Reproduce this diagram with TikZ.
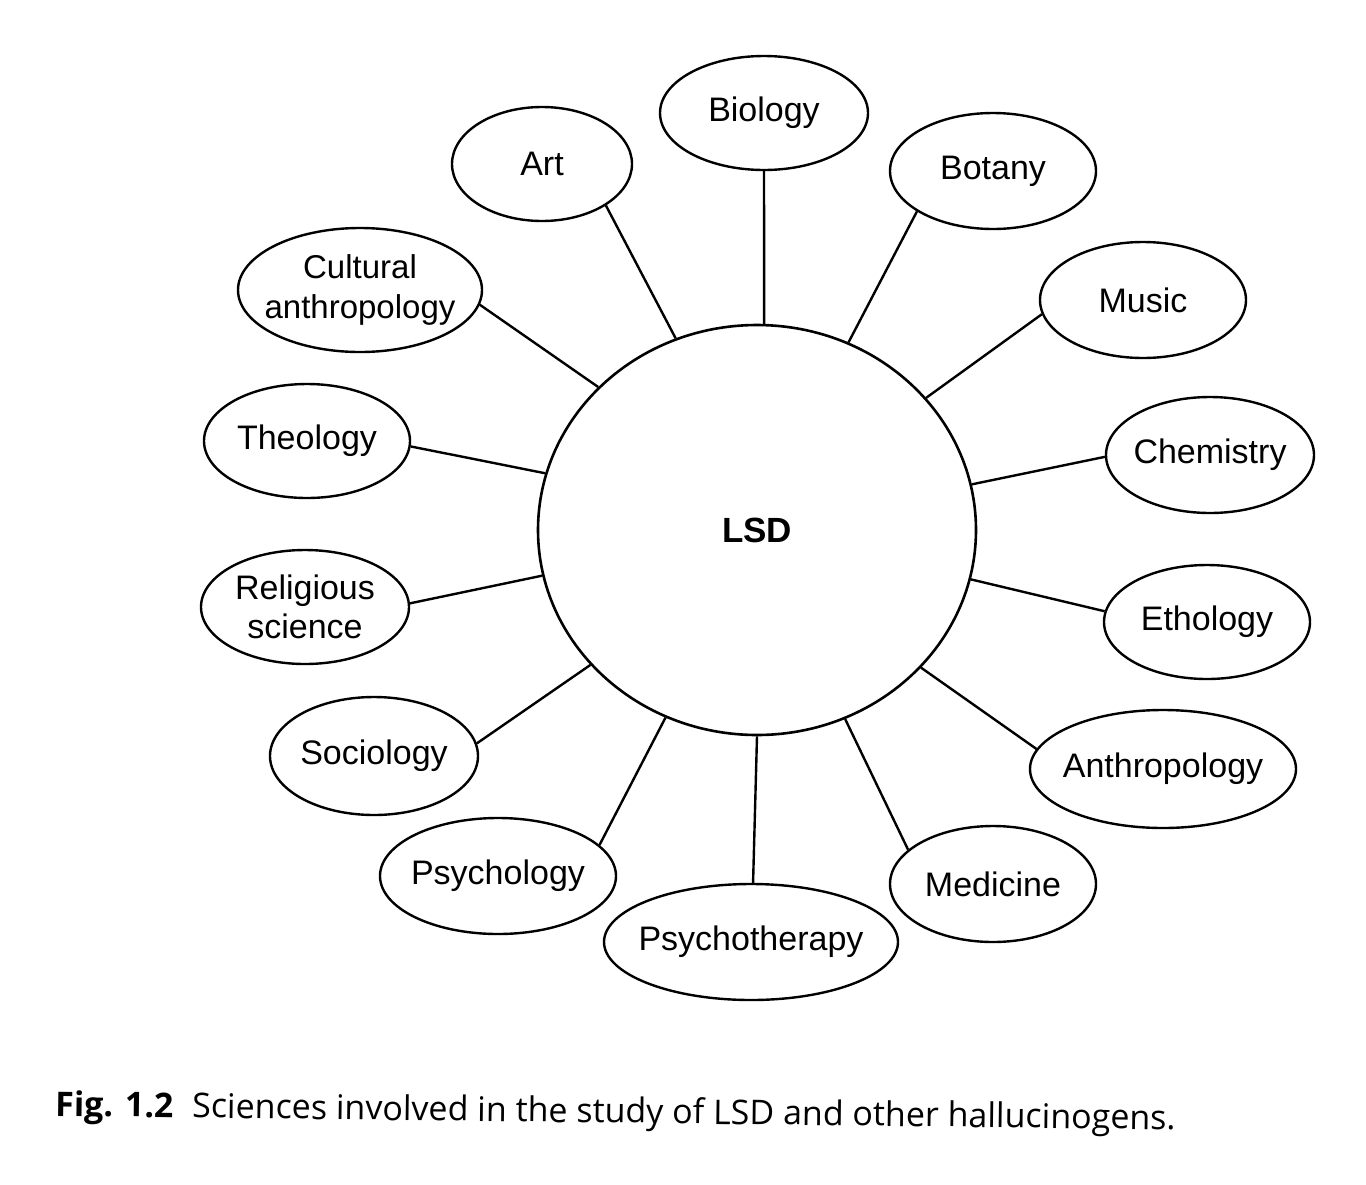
\documentclass[tikz,border=0pt]{standalone}
\usepackage{fontspec}
\setmainfont{Liberation Sans}
\newfontfamily\capfont{Open Sans}
\usetikzlibrary{shapes.geometric}
\begin{document}
\begin{tikzpicture}[x=1pt,y=-1pt,
  topic/.style={ellipse,draw,line width=2.4pt,inner xsep=-40pt,inner ysep=0pt,align=center,
    font=\fontsize{34}{38}\selectfont},
  link/.style={line width=2.4pt}]
\useasboundingbox (0,0) rectangle (1366,1184);
\node[ellipse,draw,line width=2.6pt,minimum width=438pt,minimum height=410pt,inner sep=0pt,
  font=\fontsize{35}{40}\selectfont\bfseries] (lsd) at (757,530) {LSD};
\node[topic,minimum width=208pt,minimum height=114pt] (bio) at (764,113) {Biology};
\node[topic,minimum width=180pt,minimum height=114pt] (art) at (542,164) {Art};
\node[topic,minimum width=206pt,minimum height=116pt] (bot) at (993,171) {Botany};
\node[topic,minimum width=244pt,minimum height=124pt,font=\fontsize{33}{40}\selectfont] (cult) at (360,290) {Cultural\\anthropology};
\node[topic,minimum width=206pt,minimum height=116pt] (mus) at (1143,300) {Music};
\node[topic,minimum width=206pt,minimum height=114pt] (theo) at (307,441) {Theology};
\node[topic,minimum width=208pt,minimum height=116pt] (chem) at (1210,455) {Chemistry};
\node[topic,minimum width=208pt,minimum height=114pt,font=\fontsize{34}{39}\selectfont] (rel) at (305,607) {Religious\\science};
\node[topic,minimum width=206pt,minimum height=114pt] (eth) at (1207,622) {Ethology};
\node[topic,minimum width=208pt,minimum height=118pt] (soc) at (374,756) {Sociology};
\node[topic,minimum width=266pt,minimum height=118pt] (anth) at (1163,769) {Anthropology};
\node[topic,minimum width=236pt,minimum height=116pt] (psy) at (498,876) {Psychology};
\node[topic,minimum width=206pt,minimum height=116pt] (med) at (993,884) {Medicine};
\node[topic,minimum width=294pt,minimum height=116pt] (pth) at (751,942) {Psychotherapy};
\draw[link] (lsd.113.7) -- (art.-33.7);
\draw[link] (lsd.88.6) -- (bio.-90);
\draw[link] (lsd.64.5) -- (bot.208.6);
\draw[link] (lsd.38.7) -- (mus.188.3);
\draw[link] (lsd.12.9) -- (chem.181.7);
\draw[link] (lsd.-13.8) -- (eth.174.5);
\draw[link] (lsd.-40.2) -- (anth.171.7);
\draw[link] (lsd.-65.6) -- (med.158.2);
\draw[link] (lsd.-90) -- (pth.88);
\draw[link] (lsd.244.4) -- (psy.17.9);
\draw[link] (lsd.219.4) -- (soc.7.7);
\draw[link] (lsd.192.5) -- (rel.2.7);
\draw[link] (lsd.165.2) -- (theo.-3.3);
\draw[link] (lsd.138.2) -- (cult.-7);
\node[anchor=base west,inner sep=0pt,rotate=-0.7,font=\capfont\fontsize{34}{38}\selectfont] (cap) at (55,1116)
  {\textbf{Fig. 1.2}\hspace{0.55em}Sciences involved in the study of LSD and other hallucinogens.};
\end{tikzpicture}
\end{document}
